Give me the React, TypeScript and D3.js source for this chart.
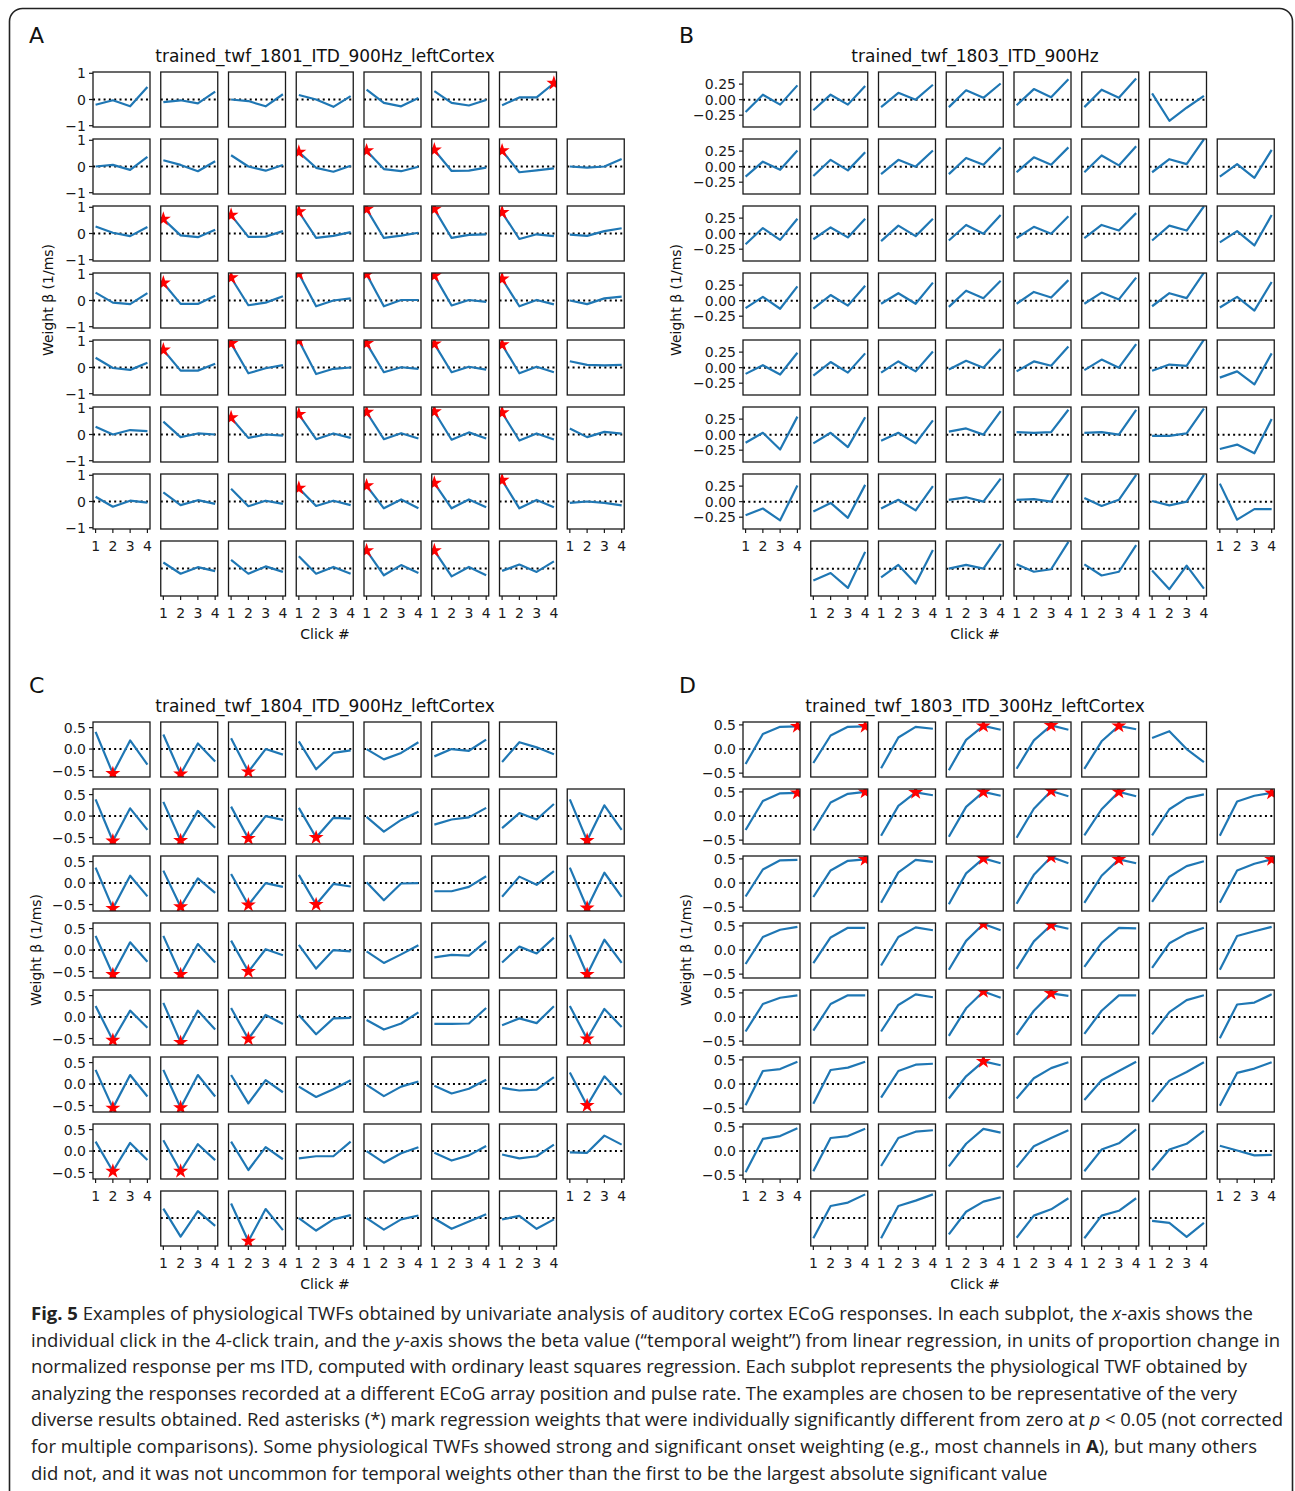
import React from 'react';
import * as d3 from 'd3';

type Grid = (number[] | null)[][];
type Star = [number, number, number]; // row, col, click (1-based)

const clicks = [1, 2, 3, 4];

const weightsA: Grid = [
  [[-0.2, -0.03, -0.26, 0.48], [-0.1, -0.03, -0.15, 0.3], [0.0, -0.06, -0.26, 0.2], [0.17, 0.0, -0.28, 0.13], [0.38, -0.13, -0.26, 0.06], [0.32, -0.13, -0.23, -0.02], [-0.22, 0.08, 0.08, 0.62], null],
  [[0.0, 0.06, -0.13, 0.37], [0.24, 0.06, -0.18, 0.2], [0.43, 0.0, -0.16, 0.06], [0.55, -0.05, -0.2, 0.03], [0.6, -0.1, -0.18, -0.01], [0.63, -0.17, -0.16, -0.04], [0.6, -0.22, -0.15, -0.07], [0.0, -0.04, 0.0, 0.29]],
  [[0.27, 0.03, -0.1, 0.25], [0.55, -0.07, -0.14, 0.14], [0.7, -0.13, -0.12, 0.09], [0.83, -0.17, -0.09, 0.05], [0.93, -0.17, -0.08, 0.03], [0.93, -0.17, -0.05, -0.03], [0.8, -0.21, -0.03, -0.1], [-0.04, -0.09, 0.09, 0.2]],
  [[0.3, -0.08, -0.14, 0.28], [0.67, -0.13, -0.13, 0.18], [0.87, -0.18, -0.08, 0.16], [1.02, -0.22, 0.0, 0.08], [1.0, -0.22, 0.02, 0.02], [0.95, -0.19, 0.02, -0.05], [0.82, -0.22, 0.02, -0.15], [0.0, -0.14, 0.08, 0.15]],
  [[0.37, -0.02, -0.09, 0.18], [0.67, -0.12, -0.12, 0.14], [0.92, -0.22, -0.03, 0.09], [1.03, -0.25, -0.05, 0.0], [0.92, -0.18, 0.01, -0.05], [0.9, -0.18, 0.03, -0.08], [0.87, -0.22, 0.03, -0.18], [0.24, 0.1, 0.08, 0.1]],
  [[0.3, 0.0, 0.17, 0.13], [0.49, -0.1, 0.04, 0.0], [0.64, -0.13, 0.0, -0.04], [0.77, -0.18, 0.04, -0.13], [0.85, -0.18, 0.05, -0.15], [0.87, -0.2, 0.08, -0.15], [0.83, -0.23, 0.04, -0.19], [0.23, -0.1, 0.1, 0.03]],
  [[0.18, -0.2, 0.03, -0.04], [0.35, -0.14, 0.05, -0.09], [0.49, -0.18, 0.03, -0.09], [0.51, -0.17, 0.03, -0.14], [0.6, -0.26, 0.08, -0.26], [0.7, -0.26, 0.08, -0.22], [0.81, -0.26, 0.06, -0.22], [-0.05, 0.0, -0.05, -0.15]],
  [null, [0.23, -0.2, 0.05, -0.1], [0.33, -0.2, 0.08, -0.13], [0.47, -0.2, 0.06, -0.2], [0.68, -0.26, 0.13, -0.17], [0.68, -0.3, 0.06, -0.26], [-0.09, 0.15, -0.13, 0.27], null],
];

const starsA: Star[] = [
  [0, 6, 4],
  [1, 3, 1], [1, 4, 1], [1, 5, 1], [1, 6, 1],
  [2, 1, 1], [2, 2, 1], [2, 3, 1], [2, 4, 1], [2, 5, 1], [2, 6, 1],
  [3, 1, 1], [3, 2, 1], [3, 3, 1], [3, 4, 1], [3, 5, 1], [3, 6, 1],
  [4, 1, 1], [4, 2, 1], [4, 3, 1], [4, 4, 1], [4, 5, 1], [4, 6, 1],
  [5, 2, 1], [5, 3, 1], [5, 4, 1], [5, 5, 1], [5, 6, 1],
  [6, 3, 1], [6, 4, 1], [6, 5, 1], [6, 6, 1],
  [7, 4, 1], [7, 5, 1],
];

const weightsB: Grid = [
  [[-0.2, 0.08, -0.08, 0.23], [-0.17, 0.08, -0.08, 0.22], [-0.12, 0.11, 0.0, 0.24], [-0.12, 0.15, 0.03, 0.26], [-0.09, 0.17, 0.04, 0.33], [-0.12, 0.16, 0.03, 0.34], [0.1, -0.34, -0.13, 0.06], null],
  [[-0.16, 0.08, -0.05, 0.26], [-0.15, 0.11, -0.06, 0.23], [-0.12, 0.11, 0.0, 0.26], [-0.12, 0.14, 0.03, 0.31], [-0.09, 0.15, 0.03, 0.31], [-0.09, 0.18, 0.02, 0.33], [-0.09, 0.12, 0.04, 0.44], [-0.16, 0.04, -0.18, 0.27]],
  [[-0.17, 0.09, -0.1, 0.24], [-0.09, 0.1, -0.06, 0.24], [-0.12, 0.13, -0.04, 0.24], [-0.11, 0.14, 0.0, 0.3], [-0.07, 0.11, 0.0, 0.28], [-0.07, 0.14, 0.05, 0.33], [-0.11, 0.13, 0.05, 0.44], [-0.14, 0.04, -0.19, 0.3]],
  [[-0.12, 0.06, -0.13, 0.23], [-0.13, 0.09, -0.08, 0.24], [-0.05, 0.12, -0.05, 0.29], [-0.1, 0.16, 0.04, 0.32], [-0.05, 0.14, 0.05, 0.33], [-0.05, 0.13, 0.02, 0.37], [-0.09, 0.12, 0.04, 0.45], [-0.11, 0.06, -0.16, 0.3]],
  [[-0.1, 0.04, -0.11, 0.24], [-0.13, 0.09, -0.08, 0.23], [-0.08, 0.1, -0.06, 0.26], [-0.03, 0.11, 0.0, 0.3], [-0.06, 0.1, 0.03, 0.34], [-0.04, 0.13, 0.0, 0.38], [-0.05, 0.05, 0.03, 0.45], [-0.16, -0.06, -0.27, 0.23]],
  [[-0.13, 0.03, -0.24, 0.29], [-0.14, 0.03, -0.2, 0.28], [-0.1, 0.03, -0.14, 0.23], [0.05, 0.1, 0.0, 0.38], [0.04, 0.03, 0.04, 0.4], [0.03, 0.04, 0.0, 0.4], [-0.02, -0.02, 0.02, 0.42], [-0.23, -0.16, -0.3, 0.25]],
  [[-0.22, -0.11, -0.3, 0.26], [-0.16, -0.02, -0.26, 0.27], [-0.11, 0.03, -0.14, 0.25], [0.03, 0.07, 0.0, 0.37], [0.03, 0.04, 0.0, 0.44], [0.06, -0.07, 0.03, 0.43], [0.01, -0.06, 0.0, 0.43], [0.29, -0.29, -0.12, -0.12]],
  [null, [-0.19, -0.07, -0.31, 0.27], [-0.14, 0.06, -0.24, 0.3], [0.0, 0.06, 0.0, 0.4], [0.07, -0.05, -0.01, 0.43], [0.07, -0.11, -0.05, 0.38], [-0.03, -0.33, 0.05, -0.32], null],
];

const starsB: Star[] = [];

const weightsC: Grid = [
  [[0.4, -0.57, 0.2, -0.36], [0.34, -0.58, 0.13, -0.29], [0.25, -0.53, 0.0, -0.13], [0.18, -0.47, -0.09, -0.03], [0.0, -0.24, -0.09, 0.16], [-0.17, 0.0, -0.04, 0.22], [-0.3, 0.16, 0.04, -0.12], null],
  [[0.39, -0.58, 0.18, -0.32], [0.33, -0.57, 0.12, -0.27], [0.22, -0.52, 0.0, -0.09], [0.19, -0.5, -0.04, -0.06], [-0.02, -0.36, -0.09, 0.1], [-0.2, -0.08, -0.03, 0.19], [-0.28, 0.07, -0.08, 0.28], [0.39, -0.57, 0.25, -0.32]],
  [[0.36, -0.59, 0.17, -0.31], [0.29, -0.55, 0.11, -0.23], [0.21, -0.51, 0.0, -0.09], [0.19, -0.5, -0.02, -0.08], [0.02, -0.4, -0.01, 0.0], [-0.19, -0.19, -0.09, 0.16], [-0.32, 0.15, -0.04, 0.28], [0.36, -0.58, 0.24, -0.32]],
  [[0.33, -0.57, 0.18, -0.27], [0.33, -0.57, 0.14, -0.29], [0.22, -0.5, 0.02, -0.12], [0.12, -0.43, 0.0, -0.03], [-0.03, -0.3, -0.1, 0.11], [-0.17, -0.11, -0.13, 0.21], [-0.29, 0.08, -0.08, 0.29], [0.35, -0.57, 0.24, -0.3]],
  [[0.26, -0.54, 0.15, -0.25], [0.33, -0.59, 0.15, -0.29], [0.21, -0.51, 0.05, -0.16], [0.05, -0.4, -0.03, -0.02], [-0.07, -0.29, -0.15, 0.11], [-0.16, -0.16, -0.15, 0.21], [-0.19, -0.03, -0.14, 0.25], [0.26, -0.51, 0.19, -0.23]],
  [[0.33, -0.56, 0.21, -0.29], [0.33, -0.55, 0.21, -0.29], [0.21, -0.45, 0.09, -0.19], [-0.06, -0.3, -0.12, 0.09], [-0.02, -0.28, -0.06, 0.06], [-0.04, -0.22, -0.11, 0.1], [-0.09, -0.15, -0.13, 0.16], [0.27, -0.5, 0.18, -0.25]],
  [[0.22, -0.47, 0.19, -0.21], [0.25, -0.47, 0.16, -0.21], [0.22, -0.44, 0.09, -0.19], [-0.17, -0.12, -0.12, 0.22], [0.0, -0.27, -0.05, 0.09], [-0.04, -0.22, -0.1, 0.12], [-0.08, -0.17, -0.12, 0.15], [-0.03, -0.04, 0.36, 0.15]],
  [null, [0.22, -0.43, 0.16, -0.18], [0.34, -0.54, 0.21, -0.28], [0.0, -0.29, -0.03, 0.07], [0.0, -0.27, -0.03, 0.06], [-0.01, -0.25, -0.08, 0.09], [-0.03, 0.05, -0.25, -0.03], null],
];

const starsC: Star[] = [
  [0, 0, 2], [0, 1, 2], [0, 2, 2],
  [1, 0, 2], [1, 1, 2], [1, 2, 2], [1, 3, 2], [1, 7, 2],
  [2, 0, 2], [2, 1, 2], [2, 2, 2], [2, 3, 2], [2, 7, 2],
  [3, 0, 2], [3, 1, 2], [3, 2, 2], [3, 7, 2],
  [4, 0, 2], [4, 1, 2], [4, 2, 2], [4, 7, 2],
  [5, 0, 2], [5, 1, 2], [5, 7, 2],
  [6, 0, 2], [6, 1, 2],
  [7, 2, 2],
];

const weightsD: Grid = [
  [[-0.31, 0.31, 0.46, 0.47], [-0.29, 0.28, 0.46, 0.47], [-0.4, 0.24, 0.46, 0.42], [-0.44, 0.19, 0.48, 0.4], [-0.41, 0.18, 0.49, 0.4], [-0.41, 0.16, 0.48, 0.41], [0.23, 0.37, 0.0, -0.27], null],
  [[-0.29, 0.31, 0.47, 0.48], [-0.3, 0.28, 0.46, 0.5], [-0.41, 0.21, 0.49, 0.43], [-0.43, 0.19, 0.5, 0.42], [-0.45, 0.15, 0.52, 0.41], [-0.4, 0.14, 0.5, 0.41], [-0.4, 0.14, 0.37, 0.45], [-0.41, 0.3, 0.42, 0.48]],
  [[-0.28, 0.28, 0.47, 0.48], [-0.29, 0.26, 0.46, 0.49], [-0.41, 0.22, 0.48, 0.44], [-0.44, 0.2, 0.51, 0.41], [-0.43, 0.17, 0.54, 0.41], [-0.41, 0.15, 0.49, 0.41], [-0.39, 0.13, 0.35, 0.45], [-0.41, 0.26, 0.4, 0.49]],
  [[-0.29, 0.27, 0.42, 0.48], [-0.27, 0.26, 0.46, 0.46], [-0.32, 0.27, 0.47, 0.41], [-0.41, 0.19, 0.54, 0.41], [-0.39, 0.18, 0.52, 0.44], [-0.35, 0.15, 0.46, 0.45], [-0.37, 0.14, 0.34, 0.46], [-0.41, 0.29, 0.39, 0.48]],
  [[-0.3, 0.27, 0.4, 0.45], [-0.28, 0.27, 0.45, 0.45], [-0.3, 0.25, 0.47, 0.41], [-0.39, 0.18, 0.53, 0.4], [-0.37, 0.13, 0.49, 0.44], [-0.35, 0.13, 0.45, 0.45], [-0.36, 0.1, 0.35, 0.45], [-0.44, 0.26, 0.3, 0.47]],
  [[-0.44, 0.27, 0.31, 0.46], [-0.41, 0.29, 0.34, 0.46], [-0.28, 0.27, 0.4, 0.42], [-0.3, 0.16, 0.47, 0.39], [-0.3, 0.12, 0.33, 0.45], [-0.33, 0.08, 0.27, 0.46], [-0.37, 0.07, 0.25, 0.45], [-0.45, 0.23, 0.32, 0.45]],
  [[-0.44, 0.25, 0.31, 0.47], [-0.42, 0.27, 0.31, 0.46], [-0.31, 0.27, 0.4, 0.43], [-0.32, 0.15, 0.46, 0.38], [-0.34, 0.1, 0.27, 0.43], [-0.42, 0.03, 0.16, 0.45], [-0.4, 0.03, 0.15, 0.42], [0.11, 0.01, -0.09, -0.08]],
  [null, [-0.42, 0.25, 0.32, 0.49], [-0.42, 0.25, 0.36, 0.49], [-0.34, 0.13, 0.34, 0.43], [-0.41, 0.05, 0.18, 0.41], [-0.42, 0.05, 0.15, 0.41], [-0.06, -0.1, -0.39, -0.1], null],
];

const starsD: Star[] = [
  [0, 0, 4], [0, 1, 4], [0, 3, 3], [0, 4, 3], [0, 5, 3],
  [1, 0, 4], [1, 1, 4], [1, 2, 3], [1, 3, 3], [1, 4, 3], [1, 5, 3], [1, 7, 4],
  [2, 1, 4], [2, 3, 3], [2, 4, 3], [2, 5, 3], [2, 7, 4],
  [3, 3, 3], [3, 4, 3],
  [4, 3, 3], [4, 4, 3],
  [5, 3, 3],
];

const panelLetters = ['A', 'B', 'C', 'D'];
const panelTitles = [
  'trained_twf_1801_ITD_900Hz_leftCortex',
  'trained_twf_1803_ITD_900Hz',
  'trained_twf_1804_ITD_900Hz_leftCortex',
  'trained_twf_1803_ITD_300Hz_leftCortex',
];
const yDomains: [number, number][] = [[-1.05, 1.05], [-0.44, 0.445], [-0.65, 0.63], [-0.58, 0.56]];
const yTickValues = [[1, 0, -1], [0.25, 0, -0.25], [0.5, 0, -0.5], [0.5, 0, -0.5]];
const yTickLabels = [['1', '0', '\u22121'], ['0.25', '0.00', '\u22120.25'], ['0.5', '0.0', '\u22120.5'], ['0.5', '0.0', '\u22120.5']];
const xLabel = 'Click #';
const yLabel = 'Weight \u03b2 (1/ms)';

const captionLines: { t: string; s?: 'b' | 'i' }[][] = [
  [{ t: 'Fig. 5', s: 'b' }, { t: ' Examples of physiological TWFs obtained by univariate analysis of auditory cortex ECoG responses. In each subplot, the ' }, { t: 'x', s: 'i' }, { t: '-axis shows the' }],
  [{ t: 'individual click in the 4-click train, and the ' }, { t: 'y', s: 'i' }, { t: '-axis shows the beta value (\u201ctemporal weight\u201d) from linear regression, in units of proportion change in' }],
  [{ t: 'normalized response per ms ITD, computed with ordinary least squares regression. Each subplot represents the physiological TWF obtained by' }],
  [{ t: 'analyzing the responses recorded at a different ECoG array position and pulse rate. The examples are chosen to be representative of the very' }],
  [{ t: 'diverse results obtained. Red asterisks (*) mark regression weights that were individually significantly different from zero at ' }, { t: 'p', s: 'i' }, { t: ' < 0.05 (not corrected' }],
  [{ t: 'for multiple comparisons). Some physiological TWFs showed strong and significant onset weighting (e.g., most channels in ' }, { t: 'A', s: 'b' }, { t: '), but many others' }],
  [{ t: 'did not, and it was not uncommon for temporal weights other than the first to be the largest absolute significant value' }],
];
// right ends of the justified-looking lines; the last line keeps its natural width
const captionLineEnds: (number | null)[] = [1253, 1280, 1247, 1237, 1283, 1257, null];

const W = 1295;
const H = 1491;
const boxW = 57;
const boxH = 55;
const colStep = 67.75;
const rowStep = 67;
const gridLeft = 93;
const gridTop = 72;
const panelOffsets = [[0, 0], [650, 0], [0, 650], [650, 650]];
const yLabelX = [53, 31, 41, 41];
const blue = '#1f77b4';
const mplFont = '"DejaVu Sans", Verdana, sans-serif';
const captionFont = '"Open Sans", "Noto Sans", sans-serif';
const captionX = 31;

const starPath = d3.symbol(d3.symbolStar, 70)() as string;

function Subplot(props: {
  id: string; x0: number; y0: number; values: number[]; stars: number[];
  yDomain: [number, number]; showY: boolean; showX: boolean; yTicks: number[]; yLabels: string[];
}) {
  const { id, x0, y0, values, stars, yDomain, showY, showX, yTicks, yLabels } = props;
  const x = d3.scaleLinear().domain([0.85, 4.15]).range([x0, x0 + boxW]);
  const y = d3.scaleLinear().domain(yDomain).range([y0 + boxH, y0]);
  const line = d3.line<number>().x((_, i) => x(clicks[i])).y(d => y(d));
  return (
    <g>
      <clipPath id={id}>
        <rect x={x0} y={y0} width={boxW} height={boxH} />
      </clipPath>
      <g clipPath={`url(#${id})`}>
        <line x1={x0} x2={x0 + boxW} y1={y(0)} y2={y(0)} stroke="#000" strokeWidth={2} strokeDasharray="2,3.3" />
        <path d={line(values) || ''} fill="none" stroke={blue} strokeWidth={2.2} strokeLinejoin="round" />
        {stars.map(c => (
          <path key={c} d={starPath} transform={`translate(${x(c)},${y(values[c - 1])})`} fill="#ff0000" />
        ))}
      </g>
      <rect x={x0} y={y0} width={boxW} height={boxH} fill="none" stroke="#1a1a1a" strokeWidth={1.3} />
      {showY && yTicks.map((t, i) => (
        <g key={t}>
          <line x1={x0 - 4} x2={x0} y1={y(t)} y2={y(t)} stroke="#1a1a1a" strokeWidth={1.2} />
          <text x={x0 - 7} y={y(t)} dy="0.36em" textAnchor="end" fontSize={14} fill="#1a1a1a">{yLabels[i]}</text>
        </g>
      ))}
      {showX && clicks.map(c => (
        <g key={c}>
          <line x1={x(c)} x2={x(c)} y1={y0 + boxH} y2={y0 + boxH + 4} stroke="#1a1a1a" strokeWidth={1.2} />
          <text x={x(c)} y={y0 + boxH + 22} textAnchor="middle" fontSize={14} fill="#1a1a1a">{c}</text>
        </g>
      ))}
    </g>
  );
}

function Panel({ index, weights, stars }: { index: number; weights: Grid; stars: Star[] }) {
  const [ox, oy] = panelOffsets[index];
  const midX = ox + 325;
  return (
    <g fontFamily={mplFont}>
      <text x={ox + 29} y={oy + 43} fontSize={22} fill="#111">{panelLetters[index]}</text>
      <text x={midX} y={oy + 62} textAnchor="middle" fontSize={17} fill="#111">{panelTitles[index]}</text>
      <text transform={`translate(${ox + yLabelX[index]},${oy + 300}) rotate(-90)`} textAnchor="middle" fontSize={14} fill="#111">{yLabel}</text>
      <text x={midX} y={oy + 639} textAnchor="middle" fontSize={14} fill="#111">{xLabel}</text>
      {weights.map((row, r) => row.map((vals, c) => {
        if (!vals) return null;
        const below = r + 1 < weights.length ? weights[r + 1][c] : null;
        const s = stars.filter(st => st[0] === r && st[1] === c).map(st => st[2]);
        return (
          <Subplot
            key={`${r}-${c}`}
            id={`clip-${index}-${r}-${c}`}
            x0={ox + gridLeft + c * colStep}
            y0={oy + gridTop + r * rowStep}
            values={vals}
            stars={s}
            yDomain={yDomains[index]}
            showY={c === 0}
            showX={!below}
            yTicks={yTickValues[index]}
            yLabels={yTickLabels[index]}
          />
        );
      }))}
    </g>
  );
}

export default function App() {
  const grids = [weightsA, weightsB, weightsC, weightsD];
  const starSets = [starsA, starsB, starsC, starsD];
  return (
    <svg width={W} height={H} style={{ position: 'absolute', left: 0, top: 0, background: '#fff' }}>
      <rect x={0} y={0} width={W} height={H} fill="#fff" />
      <rect x={9.5} y={8.5} width={1283} height={1520} rx={13} fill="none" stroke="#222" strokeWidth={1.6} />
      {grids.map((g, i) => <Panel key={i} index={i} weights={g} stars={starSets[i]} />)}
      <g fontFamily={captionFont} fontSize={18.5} fill="#222">
        {captionLines.map((parts, i) => {
          const end = captionLineEnds[i];
          return (
            <text
              key={i}
              x={captionX}
              y={1320 + i * 26.6}
              textLength={end ? end - captionX : undefined}
              lengthAdjust={end ? 'spacing' : undefined}
            >
              {parts.map((p, j) => (
                <tspan key={j} fontWeight={p.s === 'b' ? 700 : 400} fontStyle={p.s === 'i' ? 'italic' : 'normal'}>{p.t}</tspan>
              ))}
            </text>
          );
        })}
      </g>
    </svg>
  );
}
